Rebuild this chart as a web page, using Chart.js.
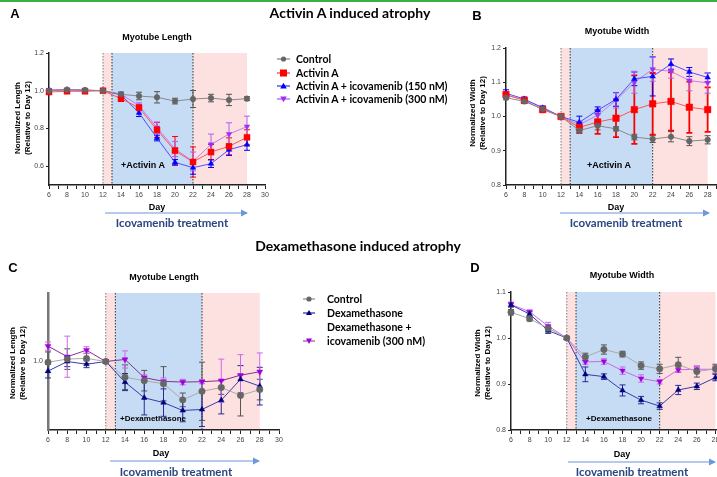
<!DOCTYPE html>
<html>
<head>
<meta charset="utf-8">
<script src="https://cdn.jsdelivr.net/npm/chart.js@4.4.1/dist/chart.umd.min.js"></script>
<style>
body{margin:0;width:717px;height:477px;overflow:hidden;background:#fff;position:relative;font-family:'Liberation Sans',Arial,sans-serif}
canvas{position:absolute;z-index:1}
.t{position:absolute;z-index:3;transform:translate(-50%,-50%);white-space:nowrap;color:#000}
.h{font-family:Lato,'Open Sans',sans-serif;font-weight:bold;font-size:14px}
.p{font-weight:bold;font-size:13px}
.ti{font-weight:bold;font-size:9px}
.yt{position:absolute;z-index:3;transform:translate(-50%,-50%) rotate(-90deg);white-space:nowrap;text-align:center;font-weight:bold;font-size:8px;line-height:10px}
.day{font-weight:bold;font-size:9px}
.ico{font-family:Lato,'Open Sans',sans-serif;font-weight:bold;font-size:11.5px;color:#2a4680}
.ann{font-weight:bold;font-size:8px}
.lg{position:absolute;z-index:3;transform:translate(0,-50%);white-space:nowrap;font-family:Lato,'Open Sans',sans-serif;font-weight:bold;font-size:10.5px}
svg{position:absolute;left:0;top:0;z-index:2}
</style>
</head>
<body>
<div style="position:absolute;left:0;top:0;width:717px;height:2px;background:#3cb043"></div>

<div class="t p" style="left:15px;top:13px">A</div>
<div class="t h" style="left:350px;top:12px">Activin A induced atrophy</div>
<div class="t p" style="left:477px;top:15px">B</div>
<div class="t ti" style="left:157px;top:37px">Myotube Length</div>
<div class="t ti" style="left:617px;top:31px">Myotube Width</div>
<div class="yt" style="left:23px;top:118px">Normalized Length<br>(Relative to Day 12)</div>
<div class="yt" style="left:478px;top:113px">Normalized Width<br>(Relative to Day 12)</div>
<div class="t day" style="left:157px;top:207px">Day</div>
<div class="t day" style="left:616px;top:207px">Day</div>
<div class="t ico" style="left:172px;top:222px">Icovamenib treatment</div>
<div class="t ico" style="left:626px;top:222px">Icovamenib treatment</div>
<div class="t ann" style="left:143px;top:165px;font-size:9px">+Activin A</div>
<div class="t ann" style="left:609px;top:165px;font-size:9px">+Activin A</div>

<div class="t h" style="left:358px;top:245px">Dexamethasone induced atrophy</div>
<div class="t p" style="left:13px;top:267px">C</div>
<div class="t p" style="left:475px;top:267px">D</div>
<div class="t ti" style="left:164px;top:277px">Myotube Length</div>
<div class="t ti" style="left:622px;top:275px">Myotube Width</div>
<div class="yt" style="left:18px;top:363px">Normalized Length<br>(Relative to Day 12)</div>
<div class="yt" style="left:483px;top:363px">Normalized Width<br>(Relative to Day 12)</div>
<div class="t day" style="left:161px;top:453px">Day</div>
<div class="t day" style="left:622px;top:454px">Day</div>
<div class="t ico" style="left:176px;top:471px">Icovamenib treatment</div>
<div class="t ico" style="left:632px;top:471px">Icovamenib treatment</div>
<div class="t ann" style="left:153px;top:418px">+Dexamethasone</div>
<div class="t ann" style="left:619px;top:418px">+Dexamethasone</div>

<div class="lg" style="left:296px;top:59px">Control</div>
<div class="lg" style="left:296px;top:73px">Activin A</div>
<div class="lg" style="left:296px;top:86px">Activin A + icovamenib (150 nM)</div>
<div class="lg" style="left:296px;top:99px">Activin A + icovamenib (300 nM)</div>

<div class="lg" style="left:327px;top:299px">Control</div>
<div class="lg" style="left:327px;top:313px">Dexamethasone</div>
<div class="lg" style="left:327px;top:327px">Dexamethasone +</div>
<div class="lg" style="left:327px;top:341px">icovamenib (300 nM)</div>

<svg width="717" height="477">
  <defs>
    <marker id="ah" markerWidth="6" markerHeight="6" refX="5" refY="3" orient="auto">
      <path d="M0,0 L6,3 L0,6 z" fill="#6d97dc"/>
    </marker>
  </defs>
  <g stroke="#6d97dc" stroke-width="1.2" marker-end="url(#ah)">
    <line x1="105" y1="213" x2="247" y2="213"/>
    <line x1="560" y1="213" x2="709" y2="213"/>
    <line x1="110" y1="461" x2="259" y2="461"/>
    <line x1="568" y1="462" x2="715" y2="462"/>
  </g>
  <!-- legend A -->
  <g stroke-width="1">
    <line x1="277" y1="59" x2="290" y2="59" stroke="#666"/>
    <circle cx="283.5" cy="59" r="2.6" fill="#666"/>
    <line x1="277" y1="73" x2="290" y2="73" stroke="#f00"/>
    <rect x="280" y="69.5" width="7" height="7" fill="#f00"/>
    <line x1="277" y1="86" x2="290" y2="86" stroke="#00f"/>
    <path d="M283.5,82.8 L286.8,88.5 L280.2,88.5 z" fill="#00f"/>
    <line x1="277" y1="99" x2="290" y2="99" stroke="#a030f0"/>
    <path d="M283.5,102.2 L286.8,96.5 L280.2,96.5 z" fill="#a030f0"/>
  </g>
  <!-- legend C -->
  <g stroke-width="1">
    <line x1="303" y1="299" x2="315" y2="299" stroke="#777"/>
    <circle cx="309" cy="299" r="2.6" fill="#666"/>
    <line x1="303" y1="313" x2="315" y2="313" stroke="#000080"/>
    <path d="M309,310 L312,315 L306,315 z" fill="#000080"/>
    <line x1="303" y1="341" x2="315" y2="341" stroke="#8a2f8a"/>
    <path d="M309,344 L312,338.5 L306,338.5 z" fill="#a000e0"/>
  </g>
</svg>

<script>
const days = [6, 8, 10, 12, 14, 16, 18, 20, 22, 24, 26, 28];

// A: Activin A, myotube length
const lenCtrlA = [1.0, 1.005, 1.003, 1.0, 0.981, 0.972, 0.965, 0.945, 0.956, 0.961, 0.951, 0.958];
const lenCtrlAErr = [0.01, 0.008, 0.006, 0.004, 0.012, 0.02, 0.03, 0.015, 0.045, 0.02, 0.03, 0.01];
const lenActA = [0.993, 0.997, 0.997, 1.0, 0.958, 0.910, 0.792, 0.682, 0.622, 0.675, 0.705, 0.753];
const lenActAErr = [0.006, 0.005, 0.005, 0.003, 0.015, 0.012, 0.04, 0.075, 0.08, 0.04, 0.045, 0.04];
const len150A = [1.002, 1.005, 1.002, 1.0, 0.978, 0.883, 0.749, 0.62, 0.592, 0.613, 0.687, 0.714];
const len150AErr = [0.005, 0.005, 0.004, 0.003, 0.01, 0.02, 0.015, 0.015, 0.035, 0.02, 0.03, 0.03];
const len300A = [1.004, 1.005, 1.004, 1.0, 0.982, 0.921, 0.804, 0.691, 0.625, 0.715, 0.77, 0.81];
const len300AErr = [0.005, 0.005, 0.004, 0.003, 0.01, 0.015, 0.03, 0.04, 0.05, 0.055, 0.06, 0.055];

// B: Activin A, myotube width
const widCtrlB = [1.055, 1.044, 1.022, 1.0, 0.959, 0.973, 0.964, 0.940, 0.934, 0.941, 0.928, 0.932];
const widCtrlBErr = [0.006, 0.005, 0.005, 0.003, 0.008, 0.012, 0.006, 0.008, 0.01, 0.015, 0.013, 0.012];
const widActB = [1.064, 1.047, 1.020, 1.0, 0.968, 0.984, 0.995, 1.020, 1.037, 1.044, 1.027, 1.020];
const widActBErr = [0.006, 0.005, 0.006, 0.003, 0.015, 0.035, 0.055, 0.1, 0.09, 0.085, 0.075, 0.065];
const wid150B = [1.068, 1.051, 1.025, 1.0, 0.983, 1.018, 1.050, 1.110, 1.117, 1.153, 1.130, 1.114];
const wid150BErr = [0.01, 0.006, 0.005, 0.003, 0.018, 0.01, 0.02, 0.02, 0.057, 0.015, 0.013, 0.013];
const wid300B = [1.062, 1.049, 1.027, 1.0, 0.976, 1.004, 1.047, 1.100, 1.138, 1.132, 1.105, 1.098];
const wid300BErr = [0.006, 0.005, 0.005, 0.003, 0.01, 0.015, 0.022, 0.032, 0.035, 0.02, 0.03, 0.03];

// C: Dexamethasone, myotube length
const lenCtrlC = [0.998, 1.007, 1.009, 1.0, 0.954, 0.944, 0.935, 0.888, 0.913, 0.924, 0.901, 0.918];
const lenCtrlCErr = [0.03, 0.03, 0.015, 0.005, 0.036, 0.03, 0.05, 0.02, 0.085, 0.02, 0.06, 0.03];
const lenDexC = [0.972, 1.0, 0.992, 1.0, 0.94, 0.894, 0.88, 0.857, 0.86, 0.887, 0.948, 0.928];
const lenDexCErr = [0.02, 0.015, 0.01, 0.005, 0.025, 0.05, 0.04, 0.033, 0.05, 0.04, 0.04, 0.055];
const len300C = [1.045, 1.014, 1.033, 1.0, 1.006, 0.953, 0.942, 0.94, 0.941, 0.944, 0.96, 0.97];
const len300CErr = [0.012, 0.06, 0.01, 0.005, 0.025, 0.008, 0.01, 0.008, 0.006, 0.063, 0.06, 0.055];

// D: Dexamethasone, myotube width
const widCtrlD = [1.056, 1.042, 1.021, 1.0, 0.959, 0.975, 0.965, 0.940, 0.933, 0.942, 0.927, 0.933];
const widCtrlDErr = [0.006, 0.005, 0.005, 0.003, 0.008, 0.01, 0.006, 0.008, 0.01, 0.016, 0.012, 0.01];
const widDexD = [1.072, 1.052, 1.016, 1.0, 0.921, 0.916, 0.886, 0.865, 0.852, 0.887, 0.895, 0.914];
const widDexDErr = [0.005, 0.005, 0.006, 0.003, 0.016, 0.006, 0.012, 0.008, 0.007, 0.01, 0.007, 0.007];
const wid300D = [1.073, 1.057, 1.026, 1.0, 0.948, 0.949, 0.929, 0.912, 0.905, 0.931, 0.932, 0.932];
const wid300DErr = [0.005, 0.004, 0.008, 0.003, 0.005, 0.006, 0.008, 0.008, 0.005, 0.006, 0.006, 0.008];

const yTicksA = [0.6, 0.8, 1.0, 1.2];
const yTicksB = [0.8, 0.9, 1.0, 1.1, 1.2];
const yTicksC = [1.0];
const yTicksD = [0.8, 0.9, 1.0, 1.1];

Chart.defaults.font.family = "'Liberation Sans', Arial, sans-serif";

const PAD = 10, YW = 30, XH = 20;

// shaded treatment windows and dotted separators
const bands = {
  id: 'bands',
  beforeDraw(chart) {
    const { ctx, chartArea: { top, bottom }, scales: { x } } = chart;
    const ranges = [[12, 13, '#fde0e0'], [13, 22, '#c6dcf5'], [22, 28, '#fde0e0']];
    ctx.save();
    for (const [a, b, col] of ranges) {
      const xa = x.getPixelForValue(a), xb = x.getPixelForValue(b);
      ctx.fillStyle = col;
      ctx.fillRect(xa, top, xb - xa, bottom - top);
    }
    ctx.restore();
  },
  beforeDatasetsDraw(chart) {
    const { ctx, chartArea: { top, bottom }, scales: { x } } = chart;
    ctx.save();
    ctx.setLineDash([1.5, 1.5]);
    ctx.lineWidth = 1;
    for (const d of [12, 13, 22]) {
      const px = x.getPixelForValue(d);
      ctx.strokeStyle = d === 12 ? '#777' : '#333';
      ctx.beginPath();
      ctx.moveTo(px, top);
      ctx.lineTo(px, bottom);
      ctx.stroke();
    }
    ctx.restore();
  }
};

const errorBars = {
  id: 'errorBars',
  beforeDatasetsDraw(chart) {
    const { ctx, scales: { y } } = chart;
    chart.data.datasets.forEach((ds, i) => {
      const meta = chart.getDatasetMeta(i);
      ctx.save();
      ctx.strokeStyle = ds.errColor;
      ctx.lineWidth = ds.errWidth || 1;
      meta.data.forEach((pt, j) => {
        const e = ds.err[j];
        const v = ds.data[j].y;
        const y1 = y.getPixelForValue(v + e), y2 = y.getPixelForValue(v - e);
        ctx.beginPath();
        ctx.moveTo(pt.x, y1); ctx.lineTo(pt.x, y2);
        ctx.moveTo(pt.x - 3, y1); ctx.lineTo(pt.x + 3, y1);
        ctx.moveTo(pt.x - 3, y2); ctx.lineTo(pt.x + 3, y2);
        ctx.stroke();
      });
      ctx.restore();
    });
  }
};

function series(vals, errs, s) {
  return {
    data: days.map((d, i) => ({ x: d, y: vals[i] })),
    err: errs,
    errColor: s.err,
    errWidth: s.errWidth,
    borderColor: s.line,
    borderWidth: 1,
    pointStyle: s.shape,
    pointRotation: s.rot || 0,
    pointRadius: s.r,
    pointBackgroundColor: s.color,
    pointBorderColor: s.color,
    pointBorderWidth: 0.5,
    tension: 0,
    clip: false
  };
}

function makePanel(rect, yMin, yMax, yTicks, datasets, yBorder) {
  const c = document.createElement('canvas');
  const w = Math.round(rect.r - rect.l) + YW + 2 * PAD;
  const h = Math.round(rect.b - rect.t) + XH + 2 * PAD;
  c.width = w; c.height = h;
  c.style.left = (rect.l - PAD - YW) + 'px';
  c.style.top = (rect.t - PAD) + 'px';
  c.style.width = w + 'px';
  c.style.height = h + 'px';
  document.body.appendChild(c);
  return new Chart(c, {
    type: 'line',
    data: { datasets },
    plugins: [bands, errorBars],
    options: {
      responsive: false,
      animation: false,
      layout: { padding: PAD },
      plugins: { legend: { display: false }, tooltip: { enabled: false } },
      scales: {
        x: {
          type: 'linear', min: 6, max: 30,
          afterFit: s => { s.height = XH; },
          ticks: { stepSize: 1, autoSkip: false, maxRotation: 0, padding: 2, color: '#444',
                   font: { size: 7 }, callback: v => (v % 2 === 0 ? v : '') },
          grid: { drawOnChartArea: false, tickLength: 4, color: '#222' },
          border: { color: '#222', width: 1.5 }
        },
        y: {
          min: yMin, max: yMax,
          afterFit: s => { s.width = YW; },
          afterBuildTicks: s => { s.ticks = yTicks.map(v => ({ value: v })); },
          ticks: { padding: 2, color: '#444', font: { size: 7 }, callback: v => v.toFixed(1) },
          grid: { drawOnChartArea: false, tickLength: 3, color: '#222' },
          border: yBorder || { color: '#222', width: 1.5 }
        }
      }
    }
  });
}

const gray = { color: '#656565', line: '#8a8a8a', err: '#555', shape: 'circle', r: 2.8 };
const red = { color: '#ff0000', line: '#ff5555', err: '#ff0000', shape: 'rect', r: 4.2 };
const blue = { color: '#0000ff', line: '#5050ff', err: '#0000ff', shape: 'triangle', r: 3.2 };
const purple = { color: '#a030f0', line: '#c57af5', err: '#b060f0', shape: 'triangle', rot: 180, r: 3.2 };

makePanel({ l: 49.3, t: 53.3, r: 265.7, b: 185.3 }, 0.5, 1.2, yTicksA, [
  series(lenCtrlA, lenCtrlAErr, gray),
  series(lenActA, lenActAErr, red),
  series(len150A, len150AErr, blue),
  series(len300A, len300AErr, purple)
]);

makePanel({ l: 505.7, t: 47.7, r: 726, b: 184.3 }, 0.8, 1.2, yTicksB, [
  series(widCtrlB, widCtrlBErr, gray),
  series(widActB, widActBErr, Object.assign({}, red, { errWidth: 1.8, r: 4.6 })),
  series(wid150B, wid150BErr, blue),
  series(wid300B, wid300BErr, purple)
]);

const grayC = { color: '#666', line: '#aaaaaa', err: '#555', shape: 'circle', r: 3.2 };
const navy = { color: '#000080', line: '#3a3aa8', err: '#2a2a90', shape: 'triangle', r: 3.2 };
const purpleC = { color: '#a000e0', line: '#8a2f8a', err: '#cc66ee', shape: 'triangle', rot: 180, r: 3.4 };
const purpleD = { color: '#a000e0', line: '#cc66ee', err: '#cc66ee', shape: 'triangle', rot: 180, r: 3.2 };

makePanel({ l: 48.3, t: 292.7, r: 279.2, b: 430 }, 0.8, 1.2, yTicksC, [
  series(lenCtrlC, lenCtrlCErr, grayC),
  series(lenDexC, lenDexCErr, navy),
  series(len300C, len300CErr, purpleC)
], { color: '#777', width: 2.5 });

makePanel({ l: 510.7, t: 292.3, r: 733.7, b: 430.7 }, 0.8, 1.1, yTicksD, [
  series(widCtrlD, widCtrlDErr, grayC),
  series(widDexD, widDexDErr, navy),
  series(wid300D, wid300DErr, purpleD)
]);
</script>
</body>
</html>
